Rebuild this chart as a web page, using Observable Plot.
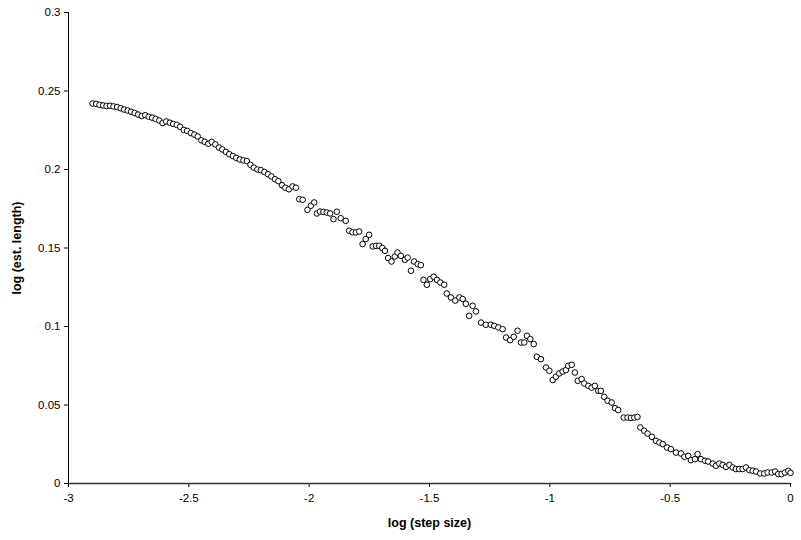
<!DOCTYPE html>
<html><head><meta charset="utf-8">
<script src="https://cdn.jsdelivr.net/npm/d3@7"></script>
<script src="https://cdn.jsdelivr.net/npm/@observablehq/plot@0.6"></script>
<style>
body{margin:0;background:#fff;}
#chart g[aria-label="x-axis label"] text, #chart g[aria-label="y-axis label"] text {font-weight:bold; font-size:12.5px;}
</style></head><body><div id="chart"></div>
<script>
const xTitle = "log (step size)";
const yTitle = "log (est. length)";
const xTicks = [-3, -2.5, -2, -1.5, -1, -0.5, 0];
const xTickLabels = ["-3", "-2.5", "-2", "-1.5", "-1", "-0.5", "0"];
const yTicks = [0, 0.05, 0.1, 0.15, 0.2, 0.25, 0.3];
const yTickLabels = ["0", "0.05", "0.1", "0.15", "0.2", "0.25", "0.3"];

const logStep = [
-2.900,-2.885,-2.871,-2.856,-2.842,-2.827,-2.813,-2.798,-2.783,-2.769,
-2.754,-2.740,-2.725,-2.711,-2.696,-2.681,-2.667,-2.652,-2.638,-2.623,
-2.609,-2.594,-2.579,-2.565,-2.550,-2.536,-2.521,-2.507,-2.492,-2.477,
-2.463,-2.448,-2.434,-2.419,-2.405,-2.390,-2.375,-2.361,-2.346,-2.332,
-2.317,-2.303,-2.288,-2.273,-2.259,-2.244,-2.230,-2.215,-2.201,-2.186,
-2.171,-2.157,-2.142,-2.128,-2.113,-2.099,-2.084,-2.069,-2.055,-2.041,
-2.027,-2.007,-1.993,-1.979,-1.968,-1.955,-1.941,-1.927,-1.913,-1.899,
-1.885,-1.869,-1.848,-1.834,-1.820,-1.806,-1.792,-1.778,-1.765,-1.751,
-1.736,-1.722,-1.709,-1.696,-1.685,-1.672,-1.658,-1.644,-1.633,-1.619,
-1.602,-1.591,-1.577,-1.564,-1.549,-1.536,-1.525,-1.511,-1.497,-1.483,
-1.469,-1.455,-1.439,-1.428,-1.411,-1.393,-1.376,-1.362,-1.349,-1.335,
-1.321,-1.307,-1.286,-1.266,-1.245,-1.231,-1.214,-1.196,-1.182,-1.165,
-1.150,-1.134,-1.120,-1.106,-1.095,-1.081,-1.067,-1.054,-1.037,-1.016,
-1.002,-0.988,-0.975,-0.961,-0.947,-0.933,-0.924,-0.909,-0.896,-0.884,
-0.868,-0.857,-0.840,-0.826,-0.813,-0.799,-0.788,-0.774,-0.760,-0.743,
-0.729,-0.716,-0.693,-0.677,-0.663,-0.649,-0.636,-0.624,-0.608,-0.594,
-0.576,-0.559,-0.545,-0.531,-0.513,-0.497,-0.476,-0.455,-0.441,-0.425,
-0.414,-0.397,-0.386,-0.372,-0.355,-0.342,-0.323,-0.310,-0.296,-0.282,
-0.268,-0.254,-0.240,-0.227,-0.213,-0.199,-0.185,-0.171,-0.157,-0.143,
-0.126,-0.109,-0.095,-0.078,-0.064,-0.051,-0.037,-0.023,-0.009,0.000
];
const logLength = [
0.2420,0.2418,0.2412,0.2408,0.2404,0.2406,0.2402,0.2398,0.2390,0.2382,
0.2376,0.2368,0.2360,0.2350,0.2340,0.2346,0.2336,0.2330,0.2322,0.2312,
0.2296,0.2306,0.2298,0.2290,0.2284,0.2272,0.2252,0.2246,0.2232,0.2222,
0.2210,0.2186,0.2176,0.2164,0.2176,0.2160,0.2140,0.2128,0.2112,0.2098,
0.2086,0.2074,0.2064,0.2058,0.2054,0.2030,0.2012,0.2000,0.1996,0.1984,
0.1970,0.1956,0.1938,0.1926,0.1900,0.1884,0.1874,0.1892,0.1884,0.1811,
0.1807,0.1743,0.1769,0.1790,0.1720,0.1732,0.1730,0.1726,0.1720,0.1684,
0.1731,0.1690,0.1673,0.1610,0.1600,0.1599,0.1605,0.1525,0.1557,0.1584,
0.1510,0.1514,0.1514,0.1500,0.1482,0.1436,0.1414,0.1446,0.1471,0.1450,
0.1425,0.1439,0.1355,0.1414,0.1397,0.1391,0.1297,0.1266,0.1302,0.1317,
0.1297,0.1280,0.1266,0.1210,0.1185,0.1165,0.1185,0.1175,0.1145,0.1068,
0.1132,0.1096,0.1025,0.1011,0.1011,0.1004,0.0994,0.0983,0.0930,0.0913,
0.0934,0.0973,0.0898,0.0898,0.0941,0.0920,0.0888,0.0807,0.0792,0.0739,
0.0718,0.0659,0.0680,0.0701,0.0713,0.0722,0.0750,0.0756,0.0707,0.0654,
0.0665,0.0637,0.0622,0.0611,0.0622,0.0590,0.0590,0.0552,0.0527,0.0516,
0.0480,0.0468,0.0420,0.0420,0.0418,0.0420,0.0424,0.0357,0.0336,0.0318,
0.0297,0.0272,0.0261,0.0251,0.0229,0.0219,0.0197,0.0191,0.0170,0.0176,
0.0149,0.0155,0.0187,0.0155,0.0145,0.0140,0.0127,0.0113,0.0127,0.0119,
0.0106,0.0119,0.0102,0.0092,0.0092,0.0092,0.0102,0.0085,0.0081,0.0076,
0.0064,0.0064,0.0070,0.0070,0.0076,0.0060,0.0060,0.0070,0.0081,0.0068
];

const data = logStep.map((x, i) => ({x, y: logLength[i]}));
const fmt = (ticks, labels) => d => labels[ticks.findIndex(t => Math.abs(t - d) < 1e-9)];

const chart = Plot.plot({
  width: 801,
  height: 540,
  marginLeft: 68,
  marginRight: 11,
  marginTop: 12,
  marginBottom: 57,
  style: {fontFamily: '"Liberation Sans", Arial, sans-serif', fontSize: "11.5px", color: "#000", background: "#fff"},
  x: {domain: [-3, 0]},
  y: {domain: [0, 0.3]},
  marks: [
    Plot.axisX({ticks: xTicks, tickFormat: fmt(xTicks, xTickLabels), tickSize: 4, tickPadding: 6,
      label: xTitle, labelAnchor: "center", labelArrow: "none", labelOffset: 43}),
    Plot.axisY({ticks: yTicks, tickFormat: fmt(yTicks, yTickLabels), tickSize: 4, tickPadding: 4,
      label: yTitle, labelAnchor: "center", labelArrow: "none", labelOffset: 56}),
    Plot.ruleY([0], {stroke: "#333", strokeWidth: 1.5}),
    Plot.ruleX([-3], {stroke: "#000", strokeWidth: 1}),
    Plot.dot(data, {x: "x", y: "y", r: 2.8, stroke: "#000", fill: "#fff", strokeWidth: 1})
  ]
});
document.getElementById("chart").appendChild(chart);
</script>
</body></html>
